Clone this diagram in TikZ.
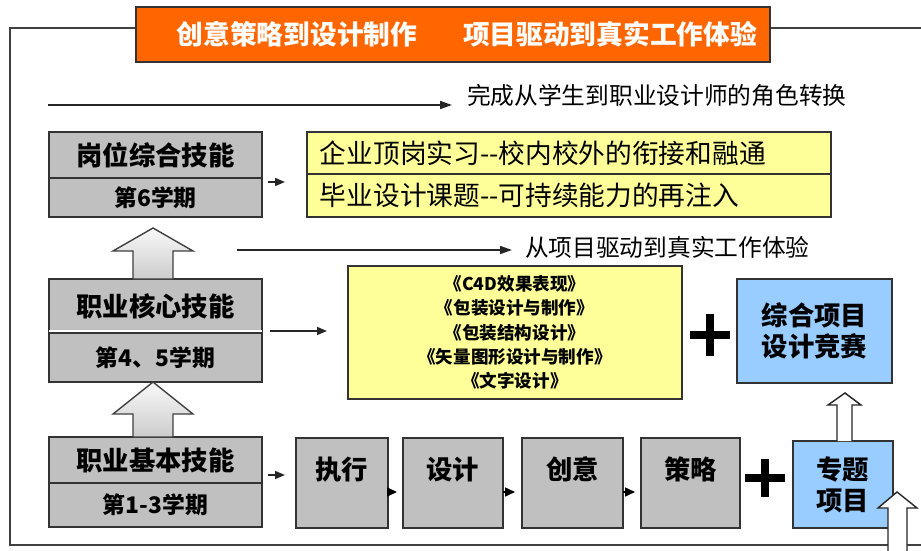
\documentclass[tikz,border=0pt]{standalone}
\usepackage{fontspec}
\setmainfont{Noto Sans CJK SC}
\usepackage{tikz}
\usetikzlibrary{arrows.meta, positioning}

\definecolor{titleorange}{HTML}{FF6600}
\definecolor{skillgray}{HTML}{C0C0C0}
\definecolor{noteyellow}{HTML}{FFFF99}
\definecolor{projblue}{HTML}{99CCFF}

\begin{document}
\begin{tikzpicture}[x=0.02cm, y=-0.02cm,
    every node/.style={inner sep=0pt, outer sep=0pt},
    box/.style={draw=black!80, line width=0.8pt, anchor=north west},
    skillbox/.style={box, fill=skillgray, minimum width=4.26cm,
      font=\fontsize{15}{18}\selectfont\bfseries},
    termbox/.style={skillbox, font=\fontsize{13}{16}\selectfont\bfseries},
    notebox/.style={box, fill=noteyellow, text width=9.96cm, inner xsep=0.26cm,
      align=left, font=\fontsize{15.2}{18}\selectfont},
    projbox/.style={box, fill=projblue, align=center,
      font=\fontsize{15}{17.5}\selectfont\bfseries},
    procbox/.style={box, fill=skillgray, minimum height=1.8cm, text depth=0.6cm,
      font=\fontsize{15}{18}\selectfont\bfseries},
    flowtext/.style={anchor=west, font=\fontsize{13.5}{16}\selectfont},
    flow/.style={-{Triangle[length=2.4mm, width=1.6mm]}, line width=0.9pt, black!85},
    stub/.style={-{Triangle[length=2mm, width=1.6mm]}, line width=0.9pt, black!85},
    procarrow/.style={-{Triangle[length=2mm, width=1.8mm]}, line width=0.9pt, black},
    liftarrow/.style={draw=black!75, line width=0.8pt, top color=gray!5, bottom color=gray!40},
    hollowarrow/.style={draw=black!85, line width=0.8pt, fill=white},
    plussign/.style={line width=4.5pt, black}]

  \useasboundingbox (0,0) rectangle (921,551);

  % Outer frame ------------------------------------------------------------
  \draw[black!75, line width=0.7pt] (921,28) -- (10,28) -- (10,545) -- (921,545);

  % Title banner -----------------------------------------------------------
  \node[box, fill=titleorange, minimum width=12.68cm, minimum height=1.1cm]
    (title) at (136,7) {};
  \node[white, font=\fontsize{15.2}{18}\selectfont\bfseries] (titleLeft)
    at (297,34) {创意策略到设计制作};
  \node[white, font=\fontsize{15.2}{18}\selectfont\bfseries] (titleRight)
    at (610,34) {项目驱动到真实工作体验};

  % Long flow arrows with captions ----------------------------------------
  \coordinate (roleStart) at (48,105);
  \node[flowtext] (roleText) at (467,95) {完成从学生到职业设计师的角色转换};
  \draw[flow, shorten >=0.3cm] (roleStart) -- (roleText.west |- roleStart);

  \coordinate (projStart) at (237,250);
  \node[flowtext] (projText) at (525,247) {从项目驱动到真实工作体验};
  \draw[flow, shorten >=0.26cm] (projStart) -- (projText.west |- projStart);

  % Skill ladder (left column) --------------------------------------------
  \node[skillbox, minimum height=0.92cm] (gangwei) at (49,132) {岗位综合技能};
  \node[termbox, below=0pt of gangwei, minimum height=0.78cm] (gangweiTerm) {第6学期};

  \node[skillbox, minimum height=1.08cm] (hexin) at (49,279) {职业核心技能};
  \node[termbox, below=0pt of hexin, minimum height=0.98cm] (hexinTerm) {第4、5学期};
  \draw[white, line width=0.8pt] ([yshift=1.2pt]hexinTerm.north west)
    -- ([yshift=1.2pt]hexinTerm.north east);

  \node[skillbox, minimum height=0.92cm] (jiben) at (49,437) {职业基本技能};
  \node[termbox, below=0pt of jiben, minimum height=0.88cm] (jibenTerm) {第1-3学期};

  % Lift arrows between the levels ----------------------------------------
  \draw[liftarrow] (133,279) -- (133,251) -- (113,251) -- (153,228)
    -- (193,251) -- (173,251) -- (173,279) -- cycle;
  \draw[liftarrow] (133,437) -- (133,414) -- (113,414) -- (153,382)
    -- (193,414) -- (173,414) -- (173,437) -- cycle;

  % Semester 6: practice and thesis ---------------------------------------
  \node[notebox, minimum height=0.84cm] (practice) at (307,132)
    {企业顶岗实习-{}-校内校外的衔接和融通};
  \node[notebox, below=0pt of practice, minimum height=0.86cm] (thesis)
    {毕业设计课题-{}-可持续能力的再注入};
  \draw[stub, shorten <=0.12cm, shorten >=0.44cm]
    (gangweiTerm.east |- 0,182) -- (practice.west |- 0,182);

  % Semester 4-5: courses + contest ---------------------------------------
  \node[box, fill=noteyellow, minimum width=6.68cm, minimum height=2.66cm,
        align=center, font=\fontsize{10}{13.8}\selectfont\bfseries]
    (courses) at (348,266)
    {《C4D效果表现》\\《包装设计与制作》\\《包装结构设计》\\《矢量图形设计与制作》\\《文字设计》};
  \draw[stub, shorten <=0.16cm, shorten >=0.42cm]
    (hexin.east |- 0,331) -- (courses.west |- 0,331);

  \coordinate (plusCourse) at (710,335);
  \draw[plussign] (plusCourse) ++(-20,0) -- ++(40,0)
    (plusCourse) ++(0,-21) -- ++(0,42);

  \node[projbox, minimum width=3.1cm, minimum height=2.08cm] (contest)
    at (737,279) {综合项目\\设计竞赛};

  % Semester 1-3: process chain + topic project ---------------------------
  \node[procbox, minimum width=1.84cm] (zhixing) at (296,438) {执行};
  \node[procbox, minimum width=2.0cm] (sheji) at (403,438) {设计};
  \node[procbox, minimum width=2.02cm] (chuangyi) at (522,438) {创意};
  \node[procbox, minimum width=1.98cm] (celue) at (641,438) {策略};

  \draw[stub, shorten <=0.12cm, shorten >=0.22cm]
    (jiben.east |- 0,475) -- (zhixing.west |- 0,475);
  \draw[procarrow, shorten >=0.12cm] (zhixing.east |- 0,492) -- (sheji.west |- 0,492);
  \draw[procarrow, shorten >=0.14cm] (sheji.east |- 0,492) -- (chuangyi.west |- 0,492);
  \draw[procarrow, shorten >=0.12cm] (chuangyi.east |- 0,492) -- (celue.west |- 0,492);

  \coordinate (plusTopic) at (765,478);
  \draw[plussign] (plusTopic) ++(-20,0) -- ++(40,0)
    (plusTopic) ++(0,-19) -- ++(0,38);

  \node[projbox, minimum width=2.0cm, minimum height=1.74cm,
        font=\fontsize{15}{17.6}\selectfont\bfseries] (topic)
    at (793,441) {专题\\项目};

  % Hollow arrows (topic -> contest, and into topic) ----------------------
  \draw[hollowarrow] (837,441) -- (837,405) -- (828,405) -- (845,393)
    -- (861,405) -- (852,405) -- (852,441);
  \draw[hollowarrow] (888,552) -- (888,508) -- (878,508) -- (897,492)
    -- (917,508) -- (907,508) -- (907,552);

\end{tikzpicture}
\end{document}
